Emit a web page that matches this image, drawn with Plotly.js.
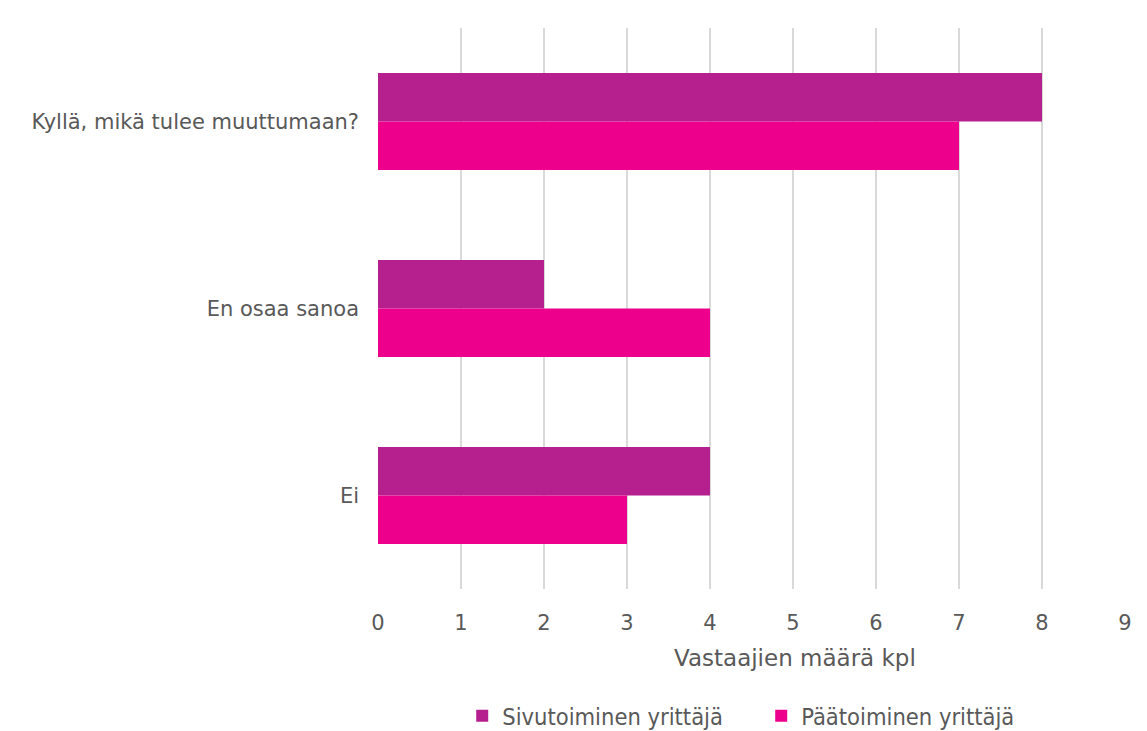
<!DOCTYPE html>
<html><head><meta charset="utf-8">
<script src="https://cdn.plot.ly/plotly-3.0.1.min.js"></script>
<style>html,body{margin:0;padding:0;background:#fff}#chart{width:1147px;height:731px}</style>
</head><body><div id="chart"></div>
<script>
const categories = ["Kyllä, mikä tulee muuttumaan?", "En osaa sanoa", "Ei"];
const sivutoiminen = [8, 2, 4];
const paatoiminen = [7, 4, 3];
const seriesNames = ["Sivutoiminen yrittäjä", "Päätoiminen yrittäjä"];
const xTicks = [0,1,2,3,4,5,6,7,8,9];
const xTitle = "Vastaajien määrä kpl";

const font = "DejaVu Sans, Verdana, sans-serif";
const data = [
  {type:'bar', orientation:'h', name:seriesNames[0], y:categories, x:sivutoiminen,
   marker:{color:'#B51F8E'}, hoverinfo:'x'},
  {type:'bar', orientation:'h', name:seriesNames[1], y:categories, x:paatoiminen,
   marker:{color:'#EC008C'}, hoverinfo:'x'}
];
const layout = {
  width:1147, height:731,
  margin:{l:378, r:22, t:28, b:142},
  paper_bgcolor:'#fff', plot_bgcolor:'#fff',
  barmode:'group', bargap:0.48, bargroupgap:0,
  font:{family:font, size:21, color:'#595959'},
  xaxis:{range:[0,9], tickvals:xTicks, showgrid:true, gridcolor:'#d9d9d9', gridwidth:1.5,
    zeroline:false, showline:false, ticks:'', ticklabelstandoff:19, automargin:false,
    tickfont:{family:font, size:21, color:'#595959'}},
  yaxis:{type:'category', categoryorder:'array', categoryarray:categories, autorange:'reversed',
    showgrid:false, zeroline:false, showline:false, ticks:'', ticklabelstandoff:18, automargin:false,
    tickfont:{family:font, size:21, color:'#595959'}},
  annotations:[{text:xTitle, xref:'paper', yref:'paper', x:0.558, y:-0.123,
    xanchor:'center', yanchor:'middle', showarrow:false,
    font:{family:font, size:23, color:'#595959'}}],
  legend:{orientation:'h', x:0.513, xanchor:'center', xref:'paper', yref:'container', y:0.0205, yanchor:'middle',
    font:{family:'DejaVu Sans Condensed, Liberation Sans Narrow, sans-serif', size:23.5, color:'#595959'},
    itemwidth:30, entrywidth:254, entrywidthmode:'pixels'},
  showlegend:true
};
Plotly.newPlot('chart', data, layout, {displayModeBar:false, staticPlot:true});
</script></body></html>
